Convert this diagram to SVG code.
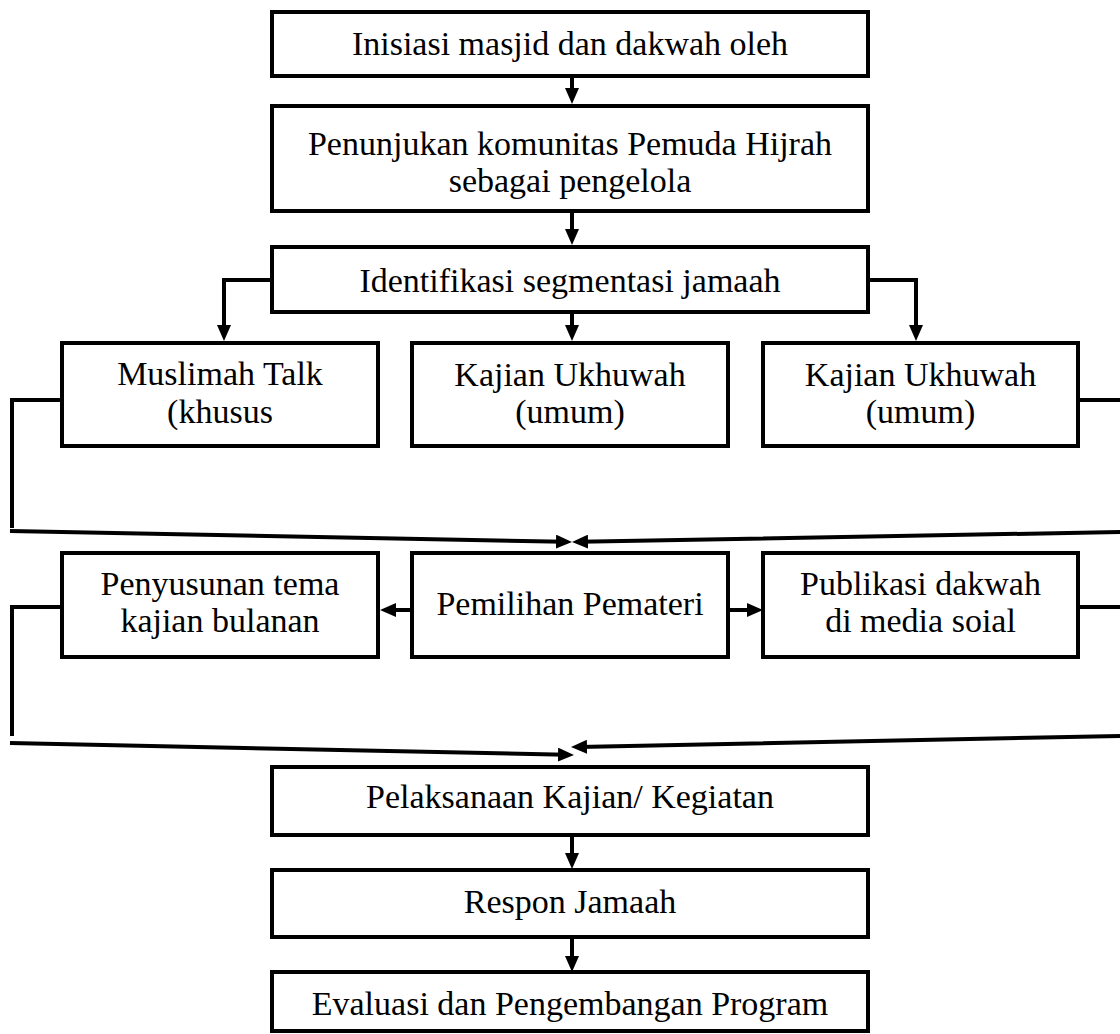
<svg xmlns="http://www.w3.org/2000/svg" width="1120" height="1034" viewBox="0 0 1120 1034">
<style>
.box{fill:#fff;stroke:#000;stroke-width:4}
.t{font-family:"Liberation Serif","Times New Roman",serif;font-size:34px;fill:#000;text-anchor:middle}
.c{fill:none;stroke:#000;stroke-width:4;stroke-linejoin:miter;marker-end:url(#ah)}
</style>
<defs>
<marker id="ah" viewBox="0 0 16 14" refX="8" refY="7" markerWidth="16" markerHeight="14" markerUnits="userSpaceOnUse" orient="auto">
<path d="M0,0 L16,7 L0,14 z" fill="#000"/>
</marker>
</defs>
<rect width="1120" height="1034" fill="#fff"/>
<g id="connectors">
<path class="c" d="M572,78 V96"/>
<path class="c" d="M572,213 V237"/>
<path class="c" d="M272,280 H224 V333"/>
<path class="c" d="M572,314 V333"/>
<path class="c" d="M868,280 H916 V333"/>
<path class="c" d="M62,400 H12 V528 M10,531 L564,541.8"/>
<path class="c" d="M1078,400 H1140 M1120,532 L580,541.8"/>
<path class="c" d="M410,610 H388"/>
<path class="c" d="M730,610 H755"/>
<path class="c" d="M62,607 H12 V736 M10,743 L566,754.8"/>
<path class="c" d="M1078,607 H1140 M1120,736 L579,746.9"/>
<path class="c" d="M572,837 V861"/>
<path class="c" d="M572,939 V964"/>
</g>
<g id="n1"><rect class="box" x="272" y="12" width="596" height="64"/><text class="t" x="570" y="55">Inisiasi masjid dan dakwah oleh</text></g>
<g id="n2"><rect class="box" x="272" y="106" width="596" height="105"/><text class="t" x="570" y="155">Penunjukan komunitas Pemuda Hijrah</text><text class="t" x="570" y="192">sebagai pengelola</text></g>
<g id="n3"><rect class="box" x="272" y="247" width="596" height="65"/><text class="t" x="570" y="292">Identifikasi segmentasi jamaah</text></g>
<g id="n4"><rect class="box" x="62" y="343" width="316" height="103"/><text class="t" x="220" y="385">Muslimah Talk</text><text class="t" x="220" y="423">(khusus</text></g>
<g id="n5"><rect class="box" x="412" y="343" width="316" height="103"/><text class="t" x="570" y="386">Kajian Ukhuwah</text><text class="t" x="570" y="423">(umum)</text></g>
<g id="n6"><rect class="box" x="763" y="343" width="315" height="103"/><text class="t" x="920.5" y="386">Kajian Ukhuwah</text><text class="t" x="920.5" y="423">(umum)</text></g>
<g id="n7"><rect class="box" x="62" y="553" width="316" height="104"/><text class="t" x="220" y="595">Penyusunan tema</text><text class="t" x="220" y="632">kajian bulanan</text></g>
<g id="n8"><rect class="box" x="412" y="553" width="316" height="104"/><text class="t" x="570" y="615">Pemilihan Pemateri</text></g>
<g id="n9"><rect class="box" x="763" y="553" width="315" height="104"/><text class="t" x="920.5" y="595">Publikasi dakwah</text><text class="t" x="920.5" y="632">di media soial</text></g>
<g id="n10"><rect class="box" x="272" y="767" width="596" height="68"/><text class="t" x="570" y="808">Pelaksanaan Kajian/ Kegiatan</text></g>
<g id="n11"><rect class="box" x="272" y="870" width="596" height="67"/><text class="t" x="570" y="913">Respon Jamaah</text></g>
<g id="n12"><rect class="box" x="272" y="972" width="596" height="59"/><text class="t" x="570" y="1015">Evaluasi dan Pengembangan Program</text></g>
</svg>
